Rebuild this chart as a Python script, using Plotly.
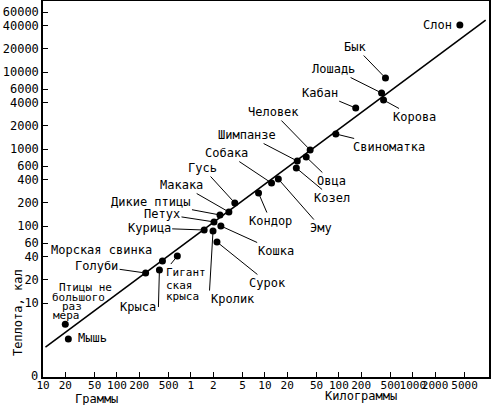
import math
import plotly.graph_objects as go

# ---- data ----
animals = ["Мышь", "Птицы не большого размера", "Голуби", "Крыса", "Морская свинка",
           "Гигантская крыса", "Курица", "Кролик", "Петух", "Кошка", "Сурок",
           "Дикие птицы", "Макака", "Гусь", "Кондор", "Собака", "Эму", "Козел",
           "Шимпанзе", "Овца", "Человек", "Свиноматка", "Кабан", "Лошадь",
           "Корова", "Бык", "Слон"]
mass_kg = [0.022, 0.020, 0.244, 0.375, 0.412, 0.655, 1.51, 1.99, 2.05, 2.54, 2.25,
           2.47, 3.26, 3.92, 8.2, 12.3, 15.2, 26.6, 27.4, 36.2, 40.9, 91, 169, 378,
           402, 427, 4325]
heat_kcal = [3.4, 5.3, 24.5, 26.8, 35.1, 40.7, 88.7, 86, 113, 100, 62, 139, 152, 199,
             268, 361, 407, 566, 698, 787, 970, 1567, 3404, 5337, 4327, 8350, 40700]

line_mass_kg = [0.0108, 9660]
line_heat_kcal = [2.68, 47300]

x_tickvals = [0.01, 0.02, 0.05, 0.1, 0.2, 0.5, 1, 2, 5, 10, 20, 50, 100, 200, 500,
              1000, 2000, 5000]
x_ticktext = ["10", "20", "50", "100", "200", "500", "1", "2", "5", "10", "20", "50",
              "100", "200", "500", "1000", "2000", "5000"]
y_tickvals = [10, 20, 40, 60, 100, 200, 400, 600, 1000, 2000, 4000, 6000, 10000,
              20000, 40000, 60000]
y_ticktext = [str(v) for v in y_tickvals]

FONT = "DejaVu Sans Mono"
FS = 12
TXT = dict(family=FONT, size=FS, color="black")
SMALL = dict(family=FONT, size=11, color="black")

fig = go.Figure()
fig.add_trace(go.Scatter(x=line_mass_kg, y=line_heat_kcal, mode="lines",
                         line=dict(color="black", width=1.6), hoverinfo="skip"))
fig.add_trace(go.Scatter(x=mass_kg, y=heat_kcal, mode="markers",
                         marker=dict(color="black", size=7), text=animals))

idx = {a: i for i, a in enumerate(animals)}

def pos(a):
    i = idx[a]
    return math.log10(mass_kg[i]), math.log10(heat_kcal[i])

# label placement: (animal, text, ax, ay, xanchor, font) for leader-line labels
leader = [
    ("Бык", "Бык", -30, -31, "center", TXT),
    ("Лошадь", "Лошадь", -48, -24, "center", TXT),
    ("Кабан", "Кабан", -36, -15, "center", TXT),
    ("Корова", "Корова", 31, 17, "center", TXT),
    ("Свиноматка", "Свиноматка", 53, 13, "center", TXT),
    ("Человек", "Человек", -37, -38, "center", TXT),
    ("Шимпанзе", "Шимпанзе", -50, -26, "center", TXT),
    ("Овца", "Овца", 25, 24, "center", TXT),
    ("Козел", "Козел", 36, 30, "center", TXT),
    ("Эму", "Эму", 43, 49, "center", TXT),
    ("Собака", "Собака", -45, -30, "center", TXT),
    ("Кондор", "Кондор", 12, 28, "center", TXT),
    ("Гусь", "Гусь", -32, -35, "center", TXT),
    ("Макака", "Макака", -47, -27, "center", TXT),
    ("Дикие птицы", "Дикие птицы", -69, -13, "center", TXT),
    ("Петух", "Петух", -52, -8, "center", TXT),
    ("Курица", "Курица", -55, -2, "center", TXT),
    ("Кошка", "Кошка", 55, 25, "center", TXT),
    ("Сурок", "Сурок", 51, 41, "center", TXT),
    ("Кролик", "Кролик", -4, 68, "left", TXT),
    ("Крыса", "Крыса", -1, 37, "right", TXT),
    ("Голуби", "Голуби", -49, -7, "center", TXT),
    ("Гигантская крыса", "Гигант", -13, 16, "left", SMALL),
]
for a, t, ax, ay, xa, f in leader:
    px, py = pos(a)
    fig.add_annotation(x=px, y=py, xref="x", yref="y", text=t,
                       showarrow=True, arrowhead=0, arrowwidth=1, arrowcolor="black",
                       ax=ax, ay=ay, standoff=3, xanchor=xa, font=f)

# labels without leader lines: (animal, text, xshift, yshift, xanchor, font)
plain = [
    ("Слон", "Слон", -6, 0, "right", TXT),
    ("Морская свинка", "Морская свинка", -61, 11, "center", TXT),
    ("Мышь", "Мышь", 8, 1, "left", TXT),
    ("Птицы не большого размера", "Птицы не", 20, 37, "center", SMALL),
    ("Птицы не большого размера", "большого", 13, 27, "center", SMALL),
    ("Птицы не большого размера", "раз", 7, 18, "center", SMALL),
    ("Птицы не большого размера", "мера", 1, 9, "center", SMALL),
    ("Гигантская крыса", "ская", -13, -29, "left", SMALL),
    ("Гигантская крыса", "крыса", -13, -40, "left", SMALL),
]
for a, t, xs, ys, xa, f in plain:
    px, py = pos(a)
    fig.add_annotation(x=px, y=py, xref="x", yref="y", text=t,
                       showarrow=False, xshift=xs, yshift=ys, xanchor=xa,
                       yanchor="middle", font=f)

# axis titles and origin label
fig.add_annotation(x=0.121, y=0, xref="paper", yref="paper", text="Граммы",
                   showarrow=False, xanchor="center", yanchor="middle", yshift=-22,
                   font=TXT)
fig.add_annotation(x=0.713, y=0, xref="paper", yref="paper", text="Килограммы",
                   showarrow=False, xanchor="center", yanchor="middle", yshift=-19,
                   font=TXT)
fig.add_annotation(x=0, y=0, xref="paper", yref="paper", text="0", showarrow=False,
                   xanchor="right", yanchor="middle", xshift=-3, yshift=1, font=TXT)
fig.add_annotation(x=0, y=0.17, xref="paper", yref="paper", text="Теплота, кал",
                   showarrow=False, textangle=-90, xanchor="center",
                   yanchor="middle", xshift=-25, font=TXT)

fig.update_layout(
    width=494, height=405,
    margin=dict(l=43, r=5, t=1, b=28),
    paper_bgcolor="white", plot_bgcolor="white",
    showlegend=False,
    font=TXT,
)

fig.update_xaxes(type="log", range=[-2.0, 4.03], tickvals=x_tickvals,
                 ticktext=x_ticktext, tickangle=0, automargin=False,
                 ticklabelstandoff=-3,
                 ticks="inside", ticklen=5, tickcolor="black",
                 showline=True, linecolor="black", linewidth=1.5, mirror=True,
                 showgrid=False, zeroline=False,
                 tickfont=dict(family=FONT, size=11, color="black"))
fig.update_yaxes(type="log", range=[0.039, 4.922], tickvals=y_tickvals,
                 ticktext=y_ticktext, automargin=False,
                 ticks="inside", ticklen=5, tickcolor="black",
                 showline=True, linecolor="black", linewidth=1.5, mirror=True,
                 showgrid=False, zeroline=False,
                 tickfont=dict(family=FONT, size=FS, color="black"))

fig.write_html("out.html",
               config={"displayModeBar": False},
               post_script="document.body.style.margin='0';"
                           "document.body.style.overflow='hidden';")
